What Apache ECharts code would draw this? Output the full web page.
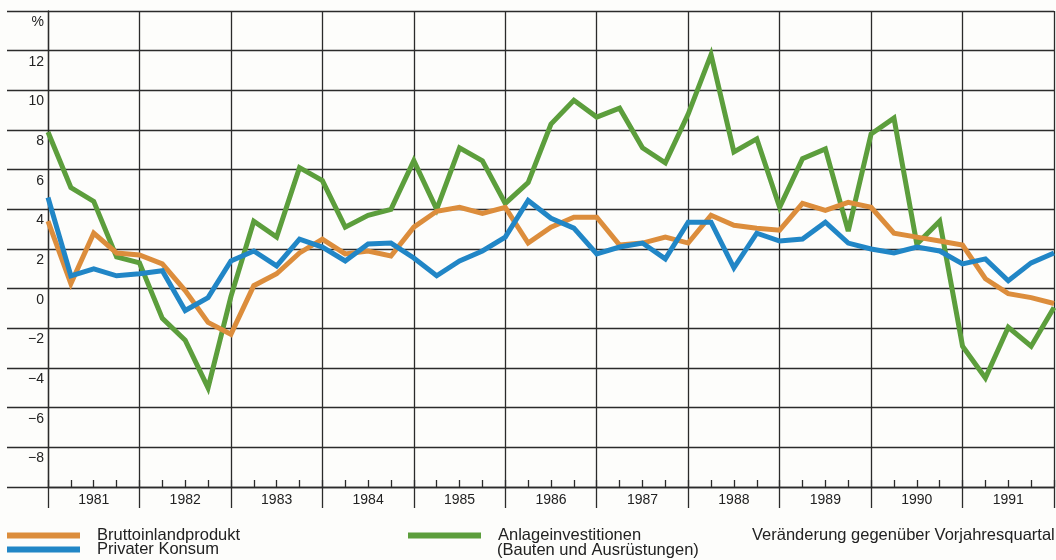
<!DOCTYPE html>
<html>
<head>
<meta charset="utf-8">
<script src="https://cdn.jsdelivr.net/npm/echarts@6/dist/echarts.min.js"></script>
<style>
html, body { margin: 0; padding: 0; background: #fdfdfb; }
#chart { width: 1056px; height: 560px; }
</style>
</head>
<body>
<div id="chart"></div>
<script>
// Jahre (je 4 Quartale)
const years = ['1981', '1982', '1983', '1984', '1985', '1986', '1987', '1988', '1989', '1990', '1991']
// Veränderung gegenüber Vorjahresquartal in %
const bip = [3.4, 0.25, 2.8, 1.8, 1.7, 1.25, -0.1, -1.7, -2.3, 0.15, 0.75, 1.8, 2.5, 1.75,
    1.9, 1.65, 3.1, 3.9, 4.1, 3.8, 4.1, 2.3, 3.1, 3.6, 3.6, 2.2, 2.3, 2.6, 2.3, 3.7,
    3.2, 3.05, 2.95, 4.3, 3.95, 4.35, 4.1, 2.8, 2.6, 2.4, 2.2, 0.5, -0.25, -0.45, -0.75]
const konsum = [4.6, 0.65, 1.0, 0.65, 0.75, 0.9, -1.1, -0.45, 1.4, 1.9, 1.15, 2.5, 2.1, 1.4,
    2.25, 2.3, 1.55, 0.65, 1.4, 1.9, 2.6, 4.45, 3.55, 3.05, 1.75, 2.1, 2.3, 1.5, 3.35, 3.35,
    1.05, 2.8, 2.4, 2.5, 3.35, 2.3, 2.0, 1.8, 2.1, 1.9, 1.25, 1.5, 0.4, 1.3, 1.8]
const anlage = [7.9, 5.1, 4.4, 1.6, 1.3, -1.5, -2.6, -5.0, -0.4, 3.4, 2.6, 6.1, 5.45, 3.1,
    3.7, 4.0, 6.45, 4.0, 7.1, 6.45, 4.3, 5.35, 8.3, 9.5, 8.65, 9.1, 7.1, 6.35, 8.8, 11.8,
    6.9, 7.55, 4.1, 6.55, 7.05, 2.9, 7.8, 8.6, 2.25, 3.4, -2.9, -4.5, -1.95, -2.9, -0.95]
const names = ['Bruttoinlandprodukt', 'Privater Konsum', 'Anlageinvestitionen']

const gridColor = '#2b2b2b'
const font = 'Liberation Sans'
const toPairs = (arr) => arr.map((v, i) => [i, v])

// Legendeneintrag (ein Eintrag pro Legende)
const legendItem = (name, left, top) => ({
    data: [name],
    orient: 'vertical',
    left: left,
    top: top,
    icon: 'rect',
    itemWidth: 73,
    itemHeight: 6,
    selectedMode: false,
    textStyle: { fontFamily: font, fontSize: 16.5, color: '#222', padding: [0, 0, 0, 12] }
})

const chart = echarts.init(document.getElementById('chart'))
const option = {
    animation: false,
    backgroundColor: '#fdfdfb',
    grid: { left: 48, right: 2, top: 11, bottom: 73 },
    xAxis: [
        {
            // Quartalsachse
            type: 'value',
            min: 0,
            max: 44,
            interval: 4,
            position: 'bottom',
            axisLine: { show: true, onZero: false, lineStyle: { color: gridColor, width: 1.3 } },
            axisTick: { show: true, inside: true, length: 7, lineStyle: { color: gridColor, width: 1.3 } },
            minorTick: { show: true, splitNumber: 4, length: 7, lineStyle: { color: gridColor, width: 1.3 } },
            axisLabel: { show: false },
            splitLine: { show: true, lineStyle: { color: gridColor, width: 1.3 } }
        },
        {
            // Jahresbeschriftung
            type: 'category',
            data: years,
            position: 'bottom',
            offset: 0,
            boundaryGap: true,
            axisLine: { show: false, onZero: false },
            axisTick: { show: true, length: 21, interval: 0, lineStyle: { color: gridColor, width: 1.3 } },
            axisLabel: { margin: 6, color: '#222', fontFamily: font, fontSize: 14, interval: 0 },
            splitLine: { show: false }
        }
    ],
    yAxis: {
        type: 'value',
        min: -10,
        max: 14,
        interval: 2,
        axisLine: { show: true, lineStyle: { color: gridColor, width: 1.3 } },
        axisTick: { show: true, length: 41, lineStyle: { color: gridColor, width: 1.3 } },
        axisLabel: {
            margin: 4,
            color: '#222',
            fontFamily: font,
            fontSize: 14,
            verticalAlign: 'top',
            lineHeight: 14,
            padding: [4, 0, 0, 0],
            showMinLabel: true,
            showMaxLabel: true,
            formatter: (v) => v === 14 ? '%' : v === -10 ? '' : (v < 0 ? '\u2212' + (-v) : String(v))
        },
        splitLine: { show: true, lineStyle: { color: gridColor, width: 1.3 } }
    },
    legend: [
        legendItem(names[0], 2, 522),
        legendItem(names[1], 2, 536),
        legendItem(names[2], 403, 522)
    ],
    graphic: [
        { type: 'text', left: 497, top: 542, style: { text: '(Bauten und Ausrüstungen)', font: '16.5px "Liberation Sans"', fill: '#222' } },
        { type: 'text', left: 752, top: 527, style: { text: 'Veränderung gegenüber Vorjahresquartal', font: '16.5px "Liberation Sans"', fill: '#222' } }
    ],
    series: [
        {
            name: names[2],
            type: 'line',
            data: toPairs(anlage),
            showSymbol: false,
            color: '#5c9e3c',
            lineStyle: { width: 5, join: 'miter', miterLimit: 4 }
        },
        {
            name: names[0],
            type: 'line',
            data: toPairs(bip),
            showSymbol: false,
            color: '#dc8d3c',
            lineStyle: { width: 5, join: 'miter', miterLimit: 4 }
        },
        {
            name: names[1],
            type: 'line',
            data: toPairs(konsum),
            showSymbol: false,
            color: '#2186c6',
            lineStyle: { width: 5, join: 'miter', miterLimit: 4 }
        }
    ]
}
chart.setOption(option)
</script>
</body>
</html>
